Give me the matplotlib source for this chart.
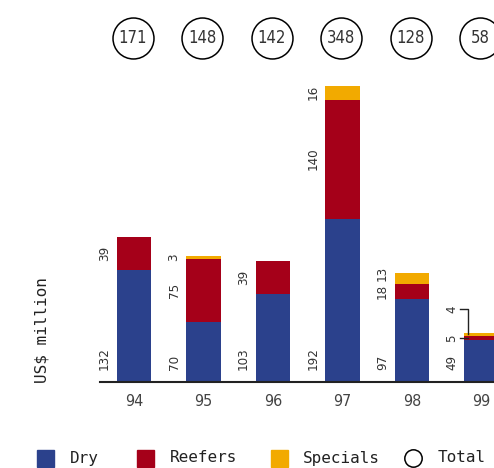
import numpy as np
import matplotlib.pyplot as plt
from matplotlib.patches import Rectangle
from matplotlib.lines import Line2D
import matplotlib.transforms as mtransforms

years = ["94", "95", "96", "97", "98", "99"]
dry = [132, 70, 103, 192, 97, 49]
reefers = [39, 75, 39, 140, 18, 5]
specials = [0, 3, 0, 16, 13, 4]
totals = [171, 148, 142, 348, 128, 58]

blue = "#2B418C"
red = "#A50019"
gold = "#F2AA00"
grey = "#333333"
mono = ["DejaVu Sans Mono"]

plt.rcParams["axes.spines.right"] = False
plt.rcParams["axes.spines.top"] = False
plt.rcParams["axes.spines.left"] = False

W, H = 494, 468
fig = plt.figure(figsize=(W / 100, H / 100), dpi=100)
ax = fig.add_axes([100 / W, 1 - 382 / H, 1 - 100 / W, 382 / H])

x = np.arange(len(years))
width = 0.5
dry = np.array(dry)
reefers = np.array(reefers)
specials = np.array(specials)

ax.bar(x, dry, width, color=blue)
ax.bar(x, reefers, width, bottom=dry, color=red)
ax.bar(x, specials, width, bottom=dry + reefers, color=gold)

ax.set_xlim(-0.49, 5.18)
ax.set_ylim(0, 449)
ax.set_yticks([])
ax.set_xticks(x)
ax.set_xticklabels(years, family="DejaVu Sans", fontstretch="condensed",
                   fontsize=11.5, color="#444444")
ax.tick_params(axis="x", length=0, pad=9)
ax.spines["bottom"].set_linewidth(1.5)
ax.spines["bottom"].set_color("#222222")

lab = dict(rotation=90, ha="right", family="DejaVu Sans",
           fontstretch="condensed", fontsize=9.5, color=grey)
min_gap = 22  # data units between stacked labels
for i in range(len(years)):
    lx = x[i] - width / 2 - 0.08
    ax.text(lx, 14, str(dry[i]), va="bottom", **lab)
    if i == len(years) - 1:
        # small segments: leader lines
        yr = dry[i] + reefers[i] / 2
        ax.text(lx, yr, str(reefers[i]), va="center", **lab)
        ax.plot([lx + 0.02, x[i] - width / 2 + 0.06], [yr, yr],
                color="#222222", lw=1, clip_on=False)
        ys_top = dry[i] + reefers[i] + specials[i]
        ys = ys_top + 28
        ax.text(lx, ys, str(specials[i]), va="center", **lab)
        ax.plot([lx + 0.02, x[i] - width / 2 + 0.06,
                 x[i] - width / 2 + 0.06],
                [ys, ys, ys_top - specials[i] / 2],
                color="#222222", lw=1, clip_on=False)
        continue
    yr = dry[i] + reefers[i] / 2
    if reefers[i] > 0:
        ax.text(lx, yr, str(reefers[i]), va="center", **lab)
    if specials[i] > 0:
        ys = max(dry[i] + reefers[i] + specials[i] / 2, yr + min_gap)
        ax.text(lx, ys, str(specials[i]), va="center", **lab)

# total circles
trans = mtransforms.blended_transform_factory(ax.transData, ax.transAxes)
for i in range(len(years)):
    ax.plot(x[i] - 0.02, 1 - 38 / 382, "o", ms=29.5, mfc="white",
            mec="black", mew=1.1, transform=trans, clip_on=False)
    ax.text(x[i] - 0.02, 1 - 38 / 382, str(totals[i]), ha="center",
            va="center", fontsize=12, color=grey, family="DejaVu Sans",
            fontstretch="condensed", transform=trans)

fig.text(42 / W, 1 - 330 / H, "US$ million", rotation=90, ha="center",
         va="center", family=mono, fontsize=11.5, color="#222222")

# legend
legend_items = [("Dry", blue, 37, 70), ("Reefers", red, 137, 170),
                ("Specials", gold, 271, 303)]
yc = 1 - 458 / H
for name, col, xs, xt in legend_items:
    fig.add_artist(Rectangle((xs / W, 1 - 467 / H), 17 / W, 17 / H,
                             transform=fig.transFigure, color=col))
    fig.text(xt / W, yc, name, ha="left", va="center", family=mono,
             fontsize=11.5, color="#222222")
fig.add_artist(Line2D([413 / W], [yc], marker="o", ms=12.5, mfc="white",
                      mec="black", mew=1.1, transform=fig.transFigure))
fig.text(438 / W, yc, "Total", ha="left", va="center", family=mono,
         fontsize=11.5, color="#222222")

fig.savefig("out.png", dpi=100)
